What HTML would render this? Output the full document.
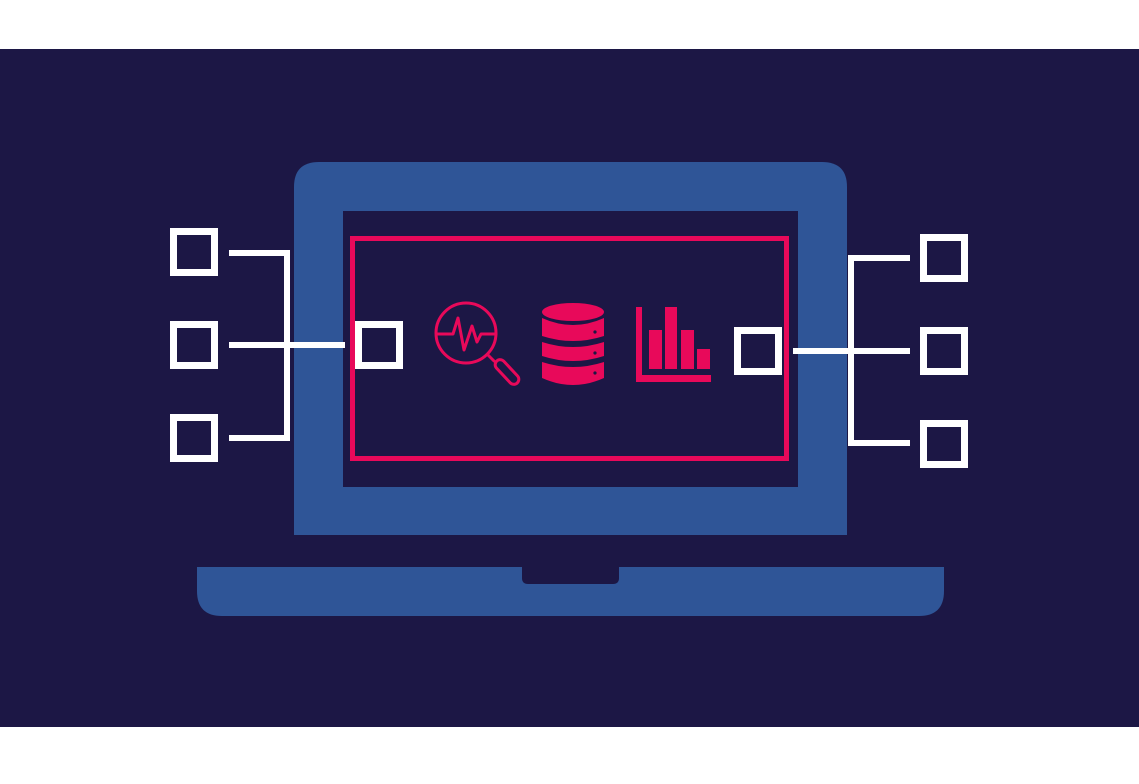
<!DOCTYPE html>
<html><head><style>
html,body{margin:0;padding:0;background:#fff;}
body{width:1139px;height:779px;overflow:hidden;}
</style></head><body>
<svg width="1139" height="779" viewBox="0 0 1139 779" xmlns="http://www.w3.org/2000/svg">
<rect x="0" y="0" width="1139" height="779" fill="#fff"/>
<rect x="0" y="49" width="1139" height="678" fill="#1c1745"/>
<path d="M294 535 V187 Q294 162 319 162 H822 Q847 162 847 187 V535 Z" fill="#2f5597"/>
<rect x="343" y="211" width="455" height="276" fill="#1c1745"/>
<path d="M197 567 H944 V591 Q944 616 919 616 H222 Q197 616 197 591 Z" fill="#2f5597"/>
<path d="M522 567 H619 V578 Q619 584 613 584 H528 Q522 584 522 578 Z" fill="#1c1745"/>
<rect x="352.5" y="238.5" width="434" height="220" fill="none" stroke="#e8095a" stroke-width="5"/>
<g fill="none" stroke="#fff" stroke-width="7">
<rect x="173.5" y="231.5" width="41" height="41"/>
<rect x="173.5" y="324.5" width="41" height="41"/>
<rect x="173.5" y="417.5" width="41" height="41"/>
<rect x="358.5" y="324.5" width="41" height="41"/>
<rect x="737.5" y="330.5" width="41" height="41"/>
<rect x="923.5" y="237.5" width="41" height="41"/>
<rect x="923.5" y="330.5" width="41" height="41"/>
<rect x="923.5" y="423.5" width="41" height="41"/>
</g>
<g fill="none" stroke="#fff" stroke-width="6">
<path d="M229 253 H287 V438 H229"/>
<path d="M229 345 H345"/>
<path d="M910 258 H851 V443 H910"/>
<path d="M793 351 H910"/>
</g>
<g fill="none" stroke="#e8095a" stroke-width="3" stroke-linejoin="round" stroke-linecap="round">
<circle cx="466" cy="333" r="30"/>
<path d="M437 334 H453 L458 318 L464 350 L472 326 L477 342 L481 334 H496"/>
<path d="M488 355 L494 361"/>
<rect x="492" y="367" width="30" height="10" rx="5" transform="rotate(47 507 372)"/>
</g>
<g fill="#e8095a">
<ellipse cx="573" cy="312" rx="31" ry="9"/>
<path d="M542 318 Q573 332 604 318 V336 Q573 346 542 336 Z"/>
<path d="M542 342 Q573 352 604 342 V356 Q573 366 542 356 Z"/>
<path d="M542 362 Q573 372 604 362 V378 Q573 392 542 378 Z"/>
</g>
<g fill="#1c1745">
<circle cx="595" cy="332" r="1.6"/>
<circle cx="595" cy="353" r="1.6"/>
<circle cx="595" cy="373" r="1.6"/>
</g>
<g fill="#e8095a">
<rect x="636" y="307" width="6" height="75"/>
<rect x="636" y="375" width="75" height="7"/>
<rect x="649" y="330" width="13" height="39"/>
<rect x="665" y="307" width="12" height="62"/>
<rect x="681" y="330" width="13" height="39"/>
<rect x="697" y="349" width="13" height="20"/>
</g>
</svg>
</body></html>
